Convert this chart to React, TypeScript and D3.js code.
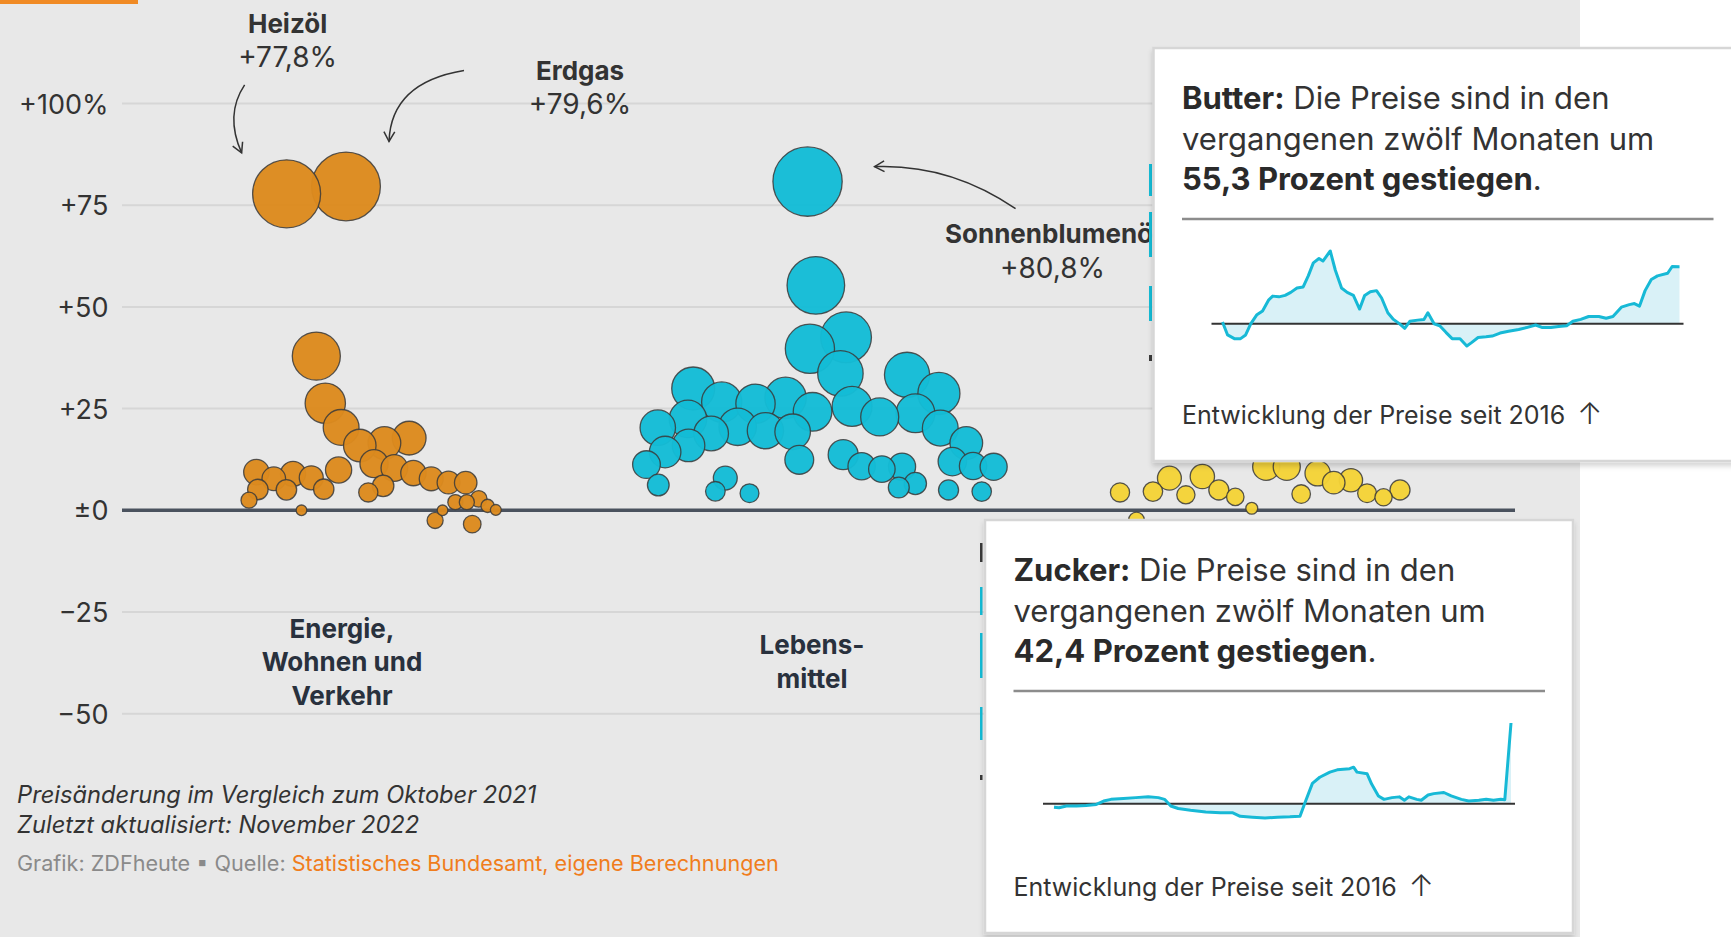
import React, { useMemo } from 'react';
import * as d3 from 'd3';

// ---------- DATA ----------
const categories = ['Energie, Wohnen und Verkehr', 'Lebensmittel', 'Sonstige Waren'];
const categoryLines = [['Energie,', 'Wohnen und', 'Verkehr'], ['Lebens-', 'mittel'], ['Sonstige', 'Waren']];

// price change vs. October 2021 in %, items of each category (listed left to right)
const energyChanges = [2.5, 5.3, 9.2, 7.7, 5.3, 77.8, 8.9, 0.0, 8.0, 37.9, 5.2, 26.1, 9.9, 79.6, 20.2, 16.3, 4.4, 16.5, 6.0, 11.7, 17.7, 10.3, 9.1, 7.9, 7.0, -2.5, 0.0, 6.8, 2.0, 2.0, -3.4, 2.8, 1.1, 0.1];
const foodChanges = [11.3, 6.2, 19.7, 15.2, 16.3, 22.2, 18.8, 29.8, 4.7, 7.9, 25.9, 22.2, 4.2, 20.7, 24.7, 27.5, 23.8, 19.9, 12.4, 80.8, 55.3, 39.8, 42.4, 33.7, 13.6, 25.5, 10.9, 23.0, 10.2, 10.7, 5.6, 33.3, 6.6, 24.0, 28.6, 20.2, 5.0, 12.0, 16.5, 10.9, 4.6, 10.7];
const otherChanges = [4.4, -2.4, 4.6, 7.9, 3.8, 8.3, 5.0, 3.3, 0.5, 10.7, 10.7, 4.0, 9.1, 6.8, 7.4, 4.2, 3.2, 5.0];

const yTickValues = [100, 75, 50, 25, 0, -25, -50];
const yTickLabels = ['+100%', '+75', '+50', '+25', '±0', '−25', '−50'];

const highlightNames = ['Heizöl', 'Erdgas', 'Sonnenblumenöl'];
const highlightGroups = [0, 0, 1];
const highlightValues = [77.8, 79.6, 80.8];
const highlightLabels = ['+77,8%', '+79,6%', '+80,8%'];

// sparklines: months since Jan 2016, year-on-year change in %
const butterMonths = [0.0, 0.9, 2.1, 3.2, 4.1, 5.0, 6.1, 7.1, 8.2, 8.9, 10.0, 11.1, 12.1, 13.2, 14.3, 15.2, 16.1, 17.1, 17.8, 19.1, 20.0, 21.1, 22.1, 23.2, 24.3, 25.2, 26.2, 27.3, 28.2, 29.3, 30.3, 31.4, 32.3, 33.2, 34.6, 35.7, 36.4, 37.5, 38.5, 39.6, 40.7, 42.1, 43.3, 44.2, 45.3, 46.7, 47.8, 49.2, 50.7, 52.5, 53.9, 55.5, 56.7, 58.2, 59.6, 61.0, 62.1, 63.5, 64.9, 66.7, 68.0, 69.2, 70.7, 72.1, 73.0, 73.9, 74.9, 76.0, 77.1, 78.9, 79.7, 81.0];
const butterChanges = [1.8, -10.7, -14.3, -14.3, -10.7, 0, 8.9, 12.5, 23.2, 26.8, 26.1, 27.5, 30.4, 34.6, 35.7, 46.4, 58.9, 63.2, 60.7, 70.4, 51.8, 34.6, 30.4, 27.5, 14.3, 27.5, 31.1, 32.1, 25.0, 10.7, 4.3, 0, -4.3, 2.5, 3.6, 4.3, 10.7, 0, -1.8, -8.2, -14.3, -14.3, -21.4, -17.9, -13.2, -12.5, -11.8, -8.9, -7.1, -5.4, -3.6, -1.1, -3.6, -3.6, -2.5, -1.8, 2.5, 4.3, 7.1, 7.1, 5.4, 7.1, 16.1, 18.6, 19.6, 17.1, 32.1, 42.9, 46.4, 48.9, 55.4, 55.3];
const sugarMonths = [0.0, 0.9, 2.2, 4.0, 5.7, 7.5, 8.8, 10.1, 12.3, 14.5, 16.7, 18.5, 19.6, 20.7, 22.0, 24.2, 26.9, 29.5, 31.7, 33.0, 35.2, 37.4, 39.6, 41.8, 43.6, 44.6, 45.8, 47.1, 48.9, 50.2, 52.4, 53.1, 53.7, 55.5, 56.3, 57.5, 58.5, 59.9, 61.2, 62.1, 62.9, 64.3, 65.1, 66.3, 67.3, 69.1, 70.4, 72.2, 73.5, 75.3, 76.6, 77.9, 79.2, 79.9, 81.0];
const sugarChanges = [-1.8, -2.1, -1.2, -1.2, -0.9, -0.4, 1.4, 2.3, 2.7, 3.2, 3.6, 3.2, 2.3, -1.2, -2.5, -3.4, -4.3, -4.8, -4.8, -6.6, -7.1, -7.5, -7.1, -6.9, -6.6, 1.4, 10.7, 13.9, 16.6, 17.8, 18.4, 19.2, 16.6, 15.7, 10.3, 4.1, 2.3, 3.2, 3.6, 1.8, 3.6, 2.3, 1.8, 4.6, 5.3, 5.9, 4.1, 2.3, 1.4, 1.8, 2.3, 1.8, 2.3, 2.1, 42.4];

const tooltipNames = ['Butter', 'Zucker'];
const tooltipValues = ['55,3', '42,4'];

// ---------- STYLE / LAYOUT ----------
const W = 1731;
const H = 937;
const FONT = 'Inter, "Noto Sans", Roboto, sans-serif';
const groupColors = ['#dc8a1e', '#14bcd6', '#f4d337'];
const groupSpread = [245, 340, 280];
const groupShift = [30, 8, -22];
const annot: Record<string, any> = {
  'Heizöl': { lx: 1, ly: -161, sx: -42, sy: -109, cx: -62, cy: -79, ex: -45, ey: -41 },
  'Erdgas': { lx: 234, ly: -106.6, sx: 118, sy: -116, cx: 45, cy: -104, ex: 43, ey: -45 },
  'Sonnenblumenöl': { lx: 245, ly: 61.6, sx: 208, sy: 27, cx: 142, cy: -18, ex: 67, ey: -15 },
};

function Tooltip({ x, y, name, value, months, changes }: any) {
  const xs = d3.scaleLinear().domain([0, 81]).range([x + 69, x + 526]);
  const ext = d3.extent(changes as number[]) as [number, number];
  const ys = d3.scaleLinear().domain(ext).range([y + 298, y + 203]);
  const pts: [number, number][] = months.map((m: number, i: number) => [m, changes[i]]);
  const line = d3.line<[number, number]>().x(d => xs(d[0])).y(d => ys(d[1]));
  const area = d3.area<[number, number]>().x(d => xs(d[0])).y0(ys(0)).y1(d => ys(d[1]));
  const tx = x + 28.5;
  return (
    <g>
      <rect x={x} y={y} width={588} height={413} fill="#fff" stroke="#d6d6d6" strokeWidth={2.5} filter="url(#shadow)" />
      <text x={tx} y={y + 61} fontSize={31} fill="#333" fontFamily={FONT}>
        <tspan fontWeight={700} fill="#2a2a2a">{name + ':'}</tspan>
        <tspan>{' Die Preise sind in den'}</tspan>
      </text>
      <text x={tx} y={y + 101.5} fontSize={31} fill="#333" fontFamily={FONT}>vergangenen zwölf Monaten um</text>
      <text x={tx} y={y + 142} fontSize={31} fill="#333" fontFamily={FONT}>
        <tspan fontWeight={700} fill="#2a2a2a">{value + ' Prozent gestiegen'}</tspan>
        <tspan>.</tspan>
      </text>
      <line x1={tx} x2={x + 560} y1={y + 171} y2={y + 171} stroke="#8c8c8c" strokeWidth={2.5} />
      <path d={area(pts) || ''} fill="#d9f1f7" />
      <line x1={x + 58} x2={x + 530} y1={ys(0)} y2={ys(0)} stroke="#333" strokeWidth={2} />
      <path d={line(pts) || ''} fill="none" stroke="#17b9d6" strokeWidth={3} strokeLinejoin="round" />
      <text x={tx} y={y + 376} fontSize={25} fill="#333" fontFamily={FONT}>
        Entwicklung der Preise seit 2016
        <tspan dx={12} fontSize={30} fontWeight={300}>↑</tspan>
      </text>
    </g>
  );
}

export default function App() {
  const yScale = d3.scaleLinear().domain([-50, 100]).range([713.7, 103.5]);
  const xCenter = d3.scalePoint<string>().domain(categories).range([342, 1282]);
  const areaScale = d3.scaleLinear().domain([0, 80]).range([28, 28 + 14.5 * 80]);
  const radius = (v: number) => Math.sqrt(areaScale(Math.abs(v)));
  const groups = [energyChanges, foodChanges, otherChanges];

  const nodes = useMemo(() => {
    const ns: any[] = [];
    groups.forEach((vals, gi) => {
      const n = vals.length;
      const cx = (xCenter(categories[gi]) as number) + groupShift[gi];
      vals.forEach((v, i) => {
        const x0 = cx + (i / (n - 1) - 0.5) * groupSpread[gi];
        ns.push({ g: gi, v, r: radius(v), x0, x: x0, y: yScale(v) });
      });
    });
    const sim = d3
      .forceSimulation(ns)
      .force('x', d3.forceX((d: any) => d.x0).strength(0.07))
      .force('y', d3.forceY((d: any) => yScale(d.v)).strength(0.8))
      .force('c', d3.forceCollide((d: any) => d.r * 0.76).strength(0.8).iterations(2))
      .stop();
    for (let i = 0; i < 260; i++) sim.tick();
    return ns;
  }, []);

  const drawOrder = [...nodes].sort((a, b) => b.r - a.r);
  const hl = highlightNames.map((name, i) => {
    const nd = nodes.find(n => n.g === highlightGroups[i] && n.v === highlightValues[i]);
    return { name, label: highlightLabels[i], nd, a: annot[name] };
  });

  const gridX0 = 122;
  const gridX1 = 1515;

  return (
    <svg width={W} height={H} style={{ position: 'fixed', left: 0, top: 0 }} fontFamily={FONT}>
      <defs>
        <filter id="shadow" x="-5%" y="-5%" width="112%" height="112%">
          <feDropShadow dx="0" dy="4" stdDeviation="2.5" floodColor="#000" floodOpacity="0.16" />
        </filter>
        <marker id="arrow" viewBox="0 0 12 12" refX="10" refY="6" markerWidth="13" markerHeight="13" orient="auto" markerUnits="userSpaceOnUse">
          <path d="M1,1 L10,6 L1,11" fill="none" stroke="#333" strokeWidth={1.4} />
        </marker>
      </defs>
      <rect x={0} y={0} width={W} height={H} fill="#fff" />
      <rect x={0} y={0} width={1580} height={H} fill="#e8e8e8" />
      <rect x={0} y={0} width={138} height={4} fill="#f08a24" />

      {/* grid */}
      {yTickValues.map((t, i) => (
        <g key={t}>
          {t !== 0 && <line x1={gridX0} x2={gridX1} y1={yScale(t)} y2={yScale(t)} stroke="#d6d6d6" strokeWidth={2} />}
          <text x={108.5} y={yScale(t) + 10} textAnchor="end" fontSize={27} fill="#333">{yTickLabels[i]}</text>
        </g>
      ))}
      <line x1={gridX0} x2={gridX1} y1={yScale(0)} y2={yScale(0)} stroke="#4a525e" strokeWidth={3.5} />

      {/* bubbles */}
      {drawOrder.map((d, i) => (
        <circle key={i} cx={d.x} cy={d.y} r={d.r} fill={groupColors[d.g]} fillOpacity={0.97} stroke="#3a3a3a" strokeOpacity={0.85} strokeWidth={1.3} />
      ))}

      {/* annotations */}
      {hl.map(h => h.nd && (
        <g key={h.name}>
          <text x={h.nd.x + h.a.lx} y={h.nd.y + h.a.ly} textAnchor="middle" fontSize={26} fontWeight={700} fill="#333">{h.name}</text>
          <text x={h.nd.x + h.a.lx} y={h.nd.y + h.a.ly + 34.5} textAnchor="middle" fontSize={28} fill="#333">{h.label}</text>
          <path
            d={`M${h.nd.x + h.a.sx},${h.nd.y + h.a.sy} Q${h.nd.x + h.a.cx},${h.nd.y + h.a.cy} ${h.nd.x + h.a.ex},${h.nd.y + h.a.ey}`}
            fill="none" stroke="#333" strokeWidth={1.5} markerEnd="url(#arrow)"
          />
        </g>
      ))}

      {/* category labels (the third one lies hidden under the cards) */}
      {categories.slice(0, 2).map((c, gi) => {
        const lines = categoryLines[gi];
        const lh = 33.5;
        const top = 671 - ((lines.length - 1) * lh) / 2;
        return (
          <text key={c} textAnchor="middle" fontSize={26} fontWeight={700} fill="#29313d">
            {lines.map((l, li) => (
              <tspan key={li} x={xCenter(c)} y={top + li * lh}>{l}</tspan>
            ))}
          </text>
        );
      })}

      {/* notes */}
      <text x={17} y={803} fontSize={23.7} fontStyle="italic" fill="#333">Preisänderung im Vergleich zum Oktober 2021</text>
      <text x={17} y={833} fontSize={23.7} fontStyle="italic" fill="#333">Zuletzt aktualisiert: November 2022</text>
      <text x={17} y={871} fontSize={21.6} fill="#8a8a8a">
        Grafik: ZDFheute ▪ Quelle:
        <tspan fill="#f07d1c" dx={6}>Statistisches Bundesamt, eigene Berechnungen</tspan>
      </text>

      {/* edge artefacts of cards behind */}
      <g>
        <rect x={1149} y={164} width={3} height={32} fill="#14bcd6" />
        <rect x={1149} y={212} width={3} height={45} fill="#14bcd6" />
        <rect x={1149} y={286} width={3} height={35} fill="#14bcd6" />
        <rect x={1149} y={355} width={3} height={6} fill="#3a3a3a" />
        <rect x={980} y={543} width={2.5} height={19} fill="#3a3a3a" />
        <rect x={980} y={587} width={2.5} height={28} fill="#14bcd6" />
        <rect x={980} y={633} width={2.5} height={45} fill="#14bcd6" />
        <rect x={980} y={707} width={2.5} height={33} fill="#14bcd6" />
        <rect x={980} y={775} width={2.5} height={5} fill="#3a3a3a" />
      </g>

      <Tooltip x={1153.5} y={48} name={tooltipNames[0]} value={tooltipValues[0]} months={butterMonths} changes={butterChanges} />
      <Tooltip x={985} y={520} name={tooltipNames[1]} value={tooltipValues[1]} months={sugarMonths} changes={sugarChanges} />
    </svg>
  );
}
